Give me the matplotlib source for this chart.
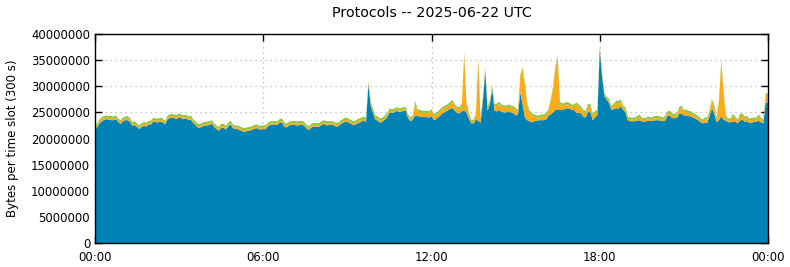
import matplotlib
matplotlib.use("Agg")
import matplotlib.pyplot as plt
from matplotlib.ticker import FixedLocator, FuncFormatter
import numpy as np

# bytes per 300 s slot, in millions; one row per hour (12 slots), last value = 24:00
blue = [
    21.6, 22.2, 22.9, 23.3, 23.6, 23.7, 23.6, 23.5, 23.5, 23.7, 23.1, 22.8,
    23.3, 23.5, 23.5, 23.2, 22.4, 22.6, 22.2, 21.8, 22.2, 22.4, 22.3, 22.7,
    22.7, 23.3, 23.1, 23.1, 23.2, 23.1, 22.7, 23.6, 23.9, 24.0, 23.9, 23.7,
    24.1, 23.9, 23.7, 23.9, 23.5, 23.6, 23.0, 22.6, 22.1, 22.1, 22.3, 22.5,
    22.5, 22.6, 22.8, 22.2, 21.8, 21.5, 22.0, 22.1, 21.7, 22.3, 22.7, 22.0,
    21.8, 21.8, 21.6, 21.4, 21.3, 21.4, 21.5, 21.6, 21.8, 22.0, 21.8, 21.7,
    21.8, 21.8, 22.3, 22.6, 22.6, 22.6, 22.6, 23.0, 23.1, 22.3, 22.1, 22.5,
    22.6, 22.7, 22.5, 22.5, 22.7, 22.6, 22.2, 21.7, 21.8, 22.2, 22.3, 22.2,
    22.3, 22.6, 22.8, 22.5, 22.6, 22.6, 22.6, 22.3, 22.3, 22.7, 23.0, 23.2,
    23.2, 23.0, 22.7, 22.6, 22.8, 23.0, 23.2, 23.4, 23.2, 30.3, 26.3, 24.9,
    23.6, 23.4, 23.0, 23.2, 23.6, 24.0, 25.0, 24.9, 25.0, 25.3, 25.1, 25.1,
    25.3, 25.3, 23.9, 23.3, 23.6, 24.4, 24.3, 24.2, 24.1, 24.1, 24.1, 24.0,
    24.3, 23.6, 23.7, 24.1, 24.5, 24.9, 25.1, 25.4, 25.7, 25.8, 25.3, 24.9,
    24.8, 25.2, 25.4, 24.9, 23.8, 22.9, 22.9, 23.6, 23.4, 23.0, 27.2, 33.0,
    25.3, 26.6, 29.5, 25.3, 25.2, 25.4, 25.1, 25.0, 25.0, 25.1, 25.0, 24.9,
    24.4, 24.6, 28.8, 26.5, 24.0, 23.5, 23.3, 23.1, 23.3, 23.4, 23.5, 23.5,
    23.5, 23.6, 24.3, 24.6, 25.0, 25.4, 25.6, 25.5, 25.5, 25.6, 25.8, 25.7,
    25.5, 25.5, 24.9, 24.9, 24.8, 24.2, 24.0, 25.1, 25.0, 23.5, 24.0, 24.5,
    37.0, 31.9, 28.1, 27.4, 26.8, 25.5, 25.6, 25.8, 25.7, 26.1, 25.5, 25.0,
    23.5, 23.3, 23.3, 23.3, 23.4, 23.5, 23.3, 23.2, 23.3, 23.4, 23.3, 23.4,
    23.5, 23.5, 23.4, 23.3, 23.4, 24.3, 24.4, 23.9, 23.9, 23.9, 24.7, 24.8,
    24.4, 24.4, 24.3, 24.2, 24.0, 23.8, 23.5, 23.2, 22.9, 23.0, 23.0, 24.3,
    25.8, 24.8, 23.1, 23.5, 24.2, 23.6, 23.4, 23.1, 23.1, 23.2, 23.2, 22.9,
    23.4, 23.6, 23.2, 23.3, 23.0, 23.0, 23.2, 23.2, 23.4, 23.1, 22.9, 26.9,
    26.8,
]
orange = [
    0.3, 0.3, 0.4, 0.4, 0.3, 0.3, 0.3, 0.4, 0.3, 0.3, 0.3, 0.3,
    0.3, 0.3, 0.4, 0.3, 0.3, 0.3, 0.3, 0.3, 0.3, 0.4, 0.3, 0.3,
    0.3, 0.3, 0.3, 0.3, 0.4, 0.3, 0.3, 0.3, 0.3, 0.3, 0.3, 0.4,
    0.3, 0.3, 0.3, 0.3, 0.3, 0.4, 0.3, 0.3, 0.3, 0.3, 0.3, 0.3,
    0.3, 0.3, 0.3, 0.3, 0.3, 0.3, 0.4, 0.3, 0.3, 0.3, 0.3, 0.3,
    0.3, 0.3, 0.3, 0.3, 0.3, 0.3, 0.3, 0.3, 0.4, 0.3, 0.3, 0.3,
    0.3, 0.3, 0.3, 0.3, 0.3, 0.3, 0.3, 0.3, 0.3, 0.4, 0.3, 0.3,
    0.3, 0.3, 0.4, 0.4, 0.3, 0.3, 0.3, 0.3, 0.3, 0.3, 0.3, 0.3,
    0.3, 0.3, 0.3, 0.4, 0.3, 0.3, 0.3, 0.3, 0.3, 0.3, 0.3, 0.4,
    0.3, 0.3, 0.3, 0.3, 0.4, 0.4, 0.4, 0.4, 0.3, 0.3, 0.3, 0.4,
    0.4, 0.4, 0.4, 0.4, 0.4, 0.4, 0.3, 0.3, 0.3, 0.3, 0.3, 0.3,
    0.3, 0.3, 0.3, 0.3, 0.4, 2.4, 0.9, 0.9, 0.8, 0.8, 0.8, 0.8,
    0.9, 0.7, 0.8, 0.8, 0.8, 0.8, 0.8, 0.8, 0.9, 1.2, 0.8, 0.7,
    0.8, 1.1, 10.8, 1.7, 0.8, 0.3, 0.3, 0.8, 11.7, 0.6, 0.4, 0.2,
    0.5, 0.5, 0.2, 0.8, 1.1, 1.2, 1.0, 0.9, 0.9, 1.0, 0.9, 0.9,
    1.0, 0.5, 3.0, 6.7, 6.2, 2.8, 1.6, 1.3, 0.9, 0.6, 0.5, 0.7,
    0.7, 0.8, 0.9, 2.4, 4.5, 7.9, 9.9, 1.1, 0.8, 0.8, 0.8, 0.7,
    0.6, 0.6, 1.6, 1.2, 0.9, 0.9, 0.8, 1.2, 1.1, 1.0, 0.8, 0.7,
    0.3, 0.2, 0.2, 0.2, 0.3, 0.3, 0.7, 1.0, 1.1, 0.9, 0.4, 0.6,
    0.4, 0.3, 0.3, 0.3, 0.5, 0.7, 0.3, 0.3, 0.3, 0.4, 0.3, 0.4,
    0.4, 0.4, 0.4, 0.3, 0.5, 0.5, 0.5, 0.5, 0.4, 0.5, 0.9, 1.1,
    0.7, 0.7, 0.6, 0.6, 0.5, 0.5, 0.4, 0.4, 0.3, 0.6, 0.6, 0.8,
    1.3, 1.3, 0.5, 3.5, 10.5, 5.2, 0.6, 0.3, 0.4, 1.1, 0.6, 0.3,
    0.9, 0.8, 0.6, 0.6, 0.4, 0.5, 0.4, 0.4, 0.8, 0.5, 0.3, 1.3,
    1.4,
]
green = [
    0.4, 0.4, 0.4, 0.4, 0.4, 0.4, 0.4, 0.4, 0.4, 0.4, 0.4, 0.4,
    0.4, 0.4, 0.4, 0.4, 0.4, 0.4, 0.4, 0.4, 0.4, 0.4, 0.4, 0.4,
    0.4, 0.4, 0.4, 0.4, 0.4, 0.4, 0.4, 0.4, 0.4, 0.4, 0.4, 0.4,
    0.4, 0.4, 0.4, 0.4, 0.4, 0.4, 0.4, 0.4, 0.4, 0.4, 0.4, 0.4,
    0.4, 0.4, 0.4, 0.4, 0.4, 0.4, 0.4, 0.4, 0.4, 0.4, 0.4, 0.4,
    0.4, 0.4, 0.4, 0.4, 0.4, 0.4, 0.4, 0.4, 0.4, 0.4, 0.4, 0.4,
    0.4, 0.4, 0.4, 0.4, 0.4, 0.4, 0.4, 0.4, 0.4, 0.4, 0.4, 0.4,
    0.4, 0.4, 0.4, 0.4, 0.4, 0.4, 0.4, 0.4, 0.4, 0.4, 0.4, 0.4,
    0.4, 0.4, 0.4, 0.4, 0.4, 0.4, 0.4, 0.4, 0.4, 0.4, 0.4, 0.4,
    0.4, 0.4, 0.4, 0.4, 0.4, 0.4, 0.4, 0.4, 0.4, 0.4, 0.4, 0.4,
    0.4, 0.4, 0.4, 0.4, 0.4, 0.4, 0.4, 0.4, 0.4, 0.4, 0.4, 0.4,
    0.4, 0.4, 0.4, 0.4, 0.4, 0.4, 0.4, 0.4, 0.4, 0.4, 0.4, 0.4,
    0.4, 0.4, 0.4, 0.4, 0.4, 0.4, 0.4, 0.4, 0.4, 0.4, 0.4, 0.4,
    0.4, 0.4, 0.4, 0.4, 0.4, 0.4, 0.4, 0.4, 0.4, 0.4, 0.4, 0.4,
    0.4, 0.4, 0.4, 0.4, 0.4, 0.4, 0.4, 0.4, 0.4, 0.4, 0.4, 0.4,
    0.4, 0.4, 0.4, 0.4, 0.4, 0.4, 0.4, 0.4, 0.4, 0.4, 0.4, 0.4,
    0.4, 0.4, 0.4, 0.4, 0.4, 0.4, 0.4, 0.4, 0.4, 0.4, 0.4, 0.4,
    0.4, 0.4, 0.4, 0.4, 0.4, 0.4, 0.4, 0.4, 0.4, 0.4, 0.4, 0.4,
    0.4, 0.4, 0.4, 0.4, 0.4, 0.4, 0.4, 0.4, 0.4, 0.4, 0.4, 0.4,
    0.4, 0.4, 0.4, 0.4, 0.4, 0.4, 0.4, 0.4, 0.4, 0.4, 0.4, 0.4,
    0.4, 0.4, 0.4, 0.4, 0.4, 0.4, 0.4, 0.4, 0.4, 0.4, 0.4, 0.4,
    0.4, 0.4, 0.4, 0.4, 0.4, 0.4, 0.4, 0.4, 0.4, 0.4, 0.4, 0.4,
    0.4, 0.4, 0.4, 0.4, 0.4, 0.4, 0.4, 0.4, 0.4, 0.4, 0.4, 0.4,
    0.4, 0.4, 0.4, 0.4, 0.4, 0.4, 0.4, 0.4, 0.4, 0.4, 0.4, 0.4,
    0.4,
]
colors = ["#0082b4", "#fbab18", "#8cc43c"]
xtick_hours = [0, 6, 12, 18, 24]
xtick_labels = ["00:00", "06:00", "12:00", "18:00", "00:00"]
title = "Protocols -- 2025-06-22 UTC"
ylabel = "Bytes per time slot (300 s)"

hours = np.arange(len(blue)) * 300 / 3600.0
layers = [np.array(s) * 1e6 for s in (blue, orange, green)]

fig = plt.figure(figsize=(7.9, 2.67), dpi=100)
ax = fig.add_axes([95 / 790, 24 / 267, 673 / 790, 209 / 267])
ax.set_axisbelow(True)
ax.grid(True, color="#b8b8b8", linestyle=(0, (1, 3)), linewidth=0.9, zorder=0)
ax.stackplot(hours, *layers, colors=colors, linewidth=0, zorder=1)

ax.set_xlim(0, 24)
ax.set_ylim(0, 40e6)
ax.xaxis.set_major_locator(FixedLocator(xtick_hours))
ax.xaxis.set_major_formatter(FuncFormatter(lambda v, p: xtick_labels[xtick_hours.index(int(round(v)))]))
ax.yaxis.set_major_locator(FixedLocator(np.arange(0, 40e6 + 1, 5e6)))
ax.yaxis.set_major_formatter(FuncFormatter(lambda v, p: f"{int(v)}"))
ax.tick_params(direction="in", top=True, right=True, length=5, width=1, labelsize=8.4)
ax.tick_params(axis="x", pad=6)
for s in ax.spines.values():
    s.set_linewidth(1.0)
    s.set_zorder(3)
ax.set_title(title, fontsize=10.3, pad=12)
ax.set_ylabel(ylabel, fontsize=8.5, labelpad=9)

fig.savefig("out.png", dpi=100)
